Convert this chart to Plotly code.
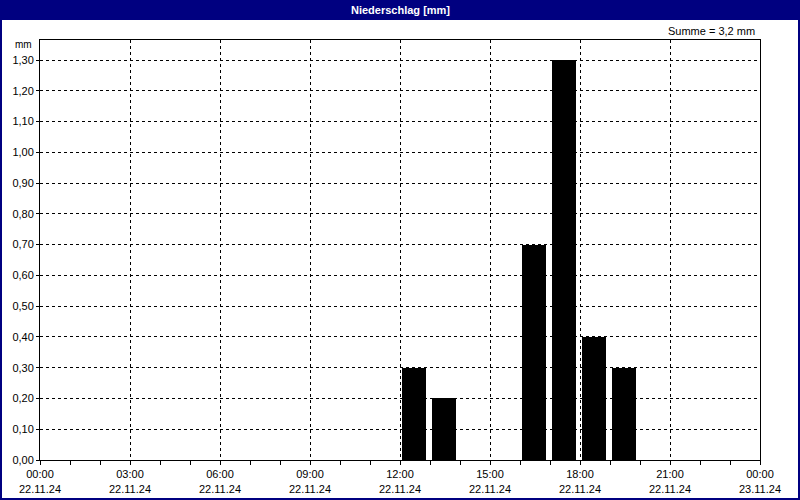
import plotly.graph_objects as go

# Data
times = ["2024-11-22 12:00", "2024-11-22 13:00", "2024-11-22 16:00",
         "2024-11-22 17:00", "2024-11-22 18:00", "2024-11-22 19:00"]
values = [0.3, 0.2, 0.7, 1.3, 0.4, 0.3]
tick_times = ["2024-11-22 00:00", "2024-11-22 03:00", "2024-11-22 06:00",
              "2024-11-22 09:00", "2024-11-22 12:00", "2024-11-22 15:00",
              "2024-11-22 18:00", "2024-11-22 21:00", "2024-11-23 00:00"]
tick_labels = ["00:00<br>22.11.24", "03:00<br>22.11.24", "06:00<br>22.11.24",
               "09:00<br>22.11.24", "12:00<br>22.11.24", "15:00<br>22.11.24",
               "18:00<br>22.11.24", "21:00<br>22.11.24", "00:00<br>23.11.24"]
title_text = "Niederschlag [mm]"
unit_text = "mm"
sum_text = "Summe = 3,2 mm"

W, H = 800, 500
L, R, T, B = 40, 40, 40, 40
PW, PH = W - L - R, H - T - B

def px(x):
    return (x - L) / PW

def py(y):
    return (H - B - y) / PH

MIN = 60 * 1000
fig = go.Figure()
fig.add_trace(go.Bar(
    x=times, y=values,
    offset=4.5 * MIN, width=47.5 * MIN,
    marker=dict(color="#000000", line=dict(width=0)),
))

font = dict(family="Liberation Sans, Arial, sans-serif", size=11, color="#000000")

fig.update_layout(
    width=W, height=H, autosize=False,
    margin=dict(l=L, r=R, t=T, b=B, pad=0, autoexpand=False),
    paper_bgcolor="#ffffff", plot_bgcolor="#ffffff",
    separators=",.",
    showlegend=False,
    font=font,
    bargap=0,
    xaxis=dict(
        type="date", automargin=False,
        range=["2024-11-22 00:00", "2024-11-23 00:00"],
        tickmode="array", tickvals=tick_times, ticktext=tick_labels,
        showgrid=True, gridcolor="#000000", gridwidth=1, griddash="3px,3px",
        showline=True, linecolor="#000000", linewidth=1, mirror=True,
        ticks="outside", ticklen=4, tickcolor="#000000",
        minor=dict(ticks="outside", ticklen=4, tickcolor="#000000",
                   dtick=3600000, showgrid=False),
        zeroline=False,
        tickfont=font,
    ),
    yaxis=dict(
        range=[0, 1.365], automargin=False,
        tickmode="linear", tick0=0, dtick=0.1, tickformat=".2f",
        showgrid=True, gridcolor="#000000", gridwidth=1, griddash="3px,3px",
        showline=True, linecolor="#000000", linewidth=1, mirror=True,
        ticks="outside", ticklen=3, tickcolor="#000000",
        zeroline=False,
        tickfont=font,
    ),
    shapes=[
        dict(type="rect", xref="paper", yref="paper",
             x0=px(0), x1=px(W), y0=py(0), y1=py(20),
             fillcolor="#000080", line=dict(width=0), layer="below"),
        dict(type="rect", xref="paper", yref="paper",
             x0=px(1), x1=px(W - 1), y0=py(1), y1=py(H - 1),
             fillcolor="rgba(0,0,0,0)", line=dict(color="#000080", width=2)),
    ],
    annotations=[
        dict(text="<b>" + title_text + "</b>", xref="paper", yref="paper",
             x=px(400), y=py(10), xanchor="center", yanchor="middle",
             showarrow=False, font=dict(family=font["family"], size=11, color="#ffffff")),
        dict(text=unit_text, xref="paper", yref="paper",
             x=px(34), y=py(45), xanchor="right", yanchor="middle",
             showarrow=False, font=dict(family=font["family"], size=10, color="#000000")),
        dict(text=sum_text, xref="paper", yref="paper",
             x=px(757), y=py(31), xanchor="right", yanchor="middle",
             showarrow=False, font=font),
    ],
)

fig.write_html("out.html", config={"displayModeBar": False},
               post_script="document.body.style.margin='0';document.body.style.overflow='hidden';")
